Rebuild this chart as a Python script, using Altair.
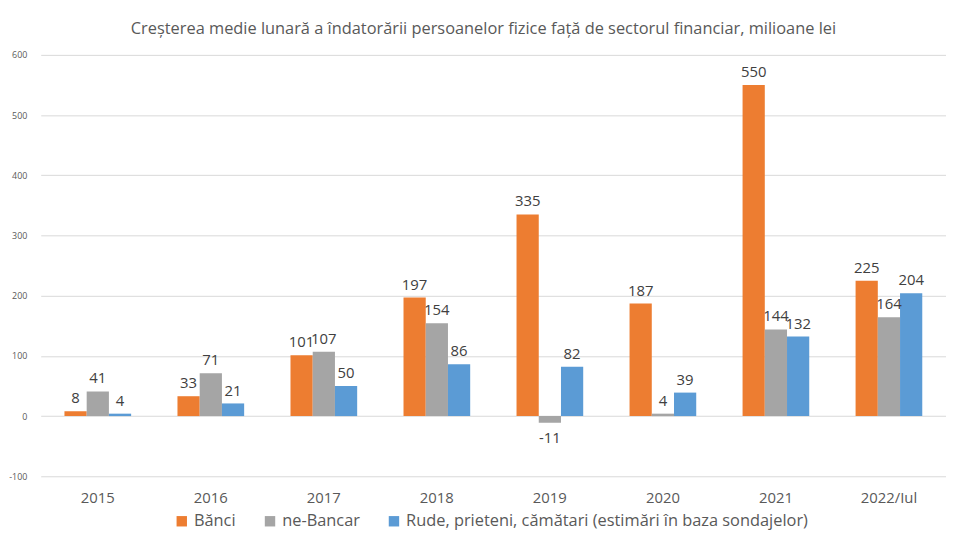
import altair as alt
import pandas as pd

years = ["2015", "2016", "2017", "2018", "2019", "2020", "2021", "2022/Iul"]
series = ["Bănci", "ne-Bancar", "Rude, prieteni, cămătari (estimări în baza sondajelor)"]
banci = [8, 33, 101, 197, 335, 187, 550, 225]
nebancar = [41, 71, 107, 154, -11, 4, 144, 164]
rude = [4, 21, 50, 86, 82, 39, 132, 204]
colors = ["#ED7D31", "#A5A5A5", "#5B9BD5"]

rows = []
for vals, s in zip([banci, nebancar, rude], series):
    for y, v in zip(years, vals):
        rows.append({"year": y, "series": s, "value": v, "label": str(v)})
df = pd.DataFrame(rows)

FONT = "Liberation Sans Narrow, Open Sans, sans-serif"

x = alt.X("year:N", sort=years, title=None,
          scale=alt.Scale(paddingInner=0.41, paddingOuter=0.21),
          axis=alt.Axis(labelAngle=0, labelFontSize=15, labelColor="#595959",
                        labelPadding=14, ticks=False, domain=False, labelFont=FONT))
xo = alt.XOffset("series:N", sort=series, scale=alt.Scale(paddingInner=0))
y = alt.Y("value:Q", title=None,
          scale=alt.Scale(domain=[-100, 600], nice=False),
          axis=alt.Axis(values=[-100, 0, 100, 200, 300, 400, 500, 600],
                        labelExpr="toString(datum.value)",
                        labelFontSize=9, labelColor="#595959", ticks=False,
                        domain=False, gridColor="#D9D9D9", labelPadding=14,
                        labelFont=FONT))

base = alt.Chart(df).encode(x=x, xOffset=xo, y=y)

bars = base.mark_bar().encode(
    color=alt.Color("series:N", sort=series,
                    scale=alt.Scale(domain=series, range=colors),
                    legend=alt.Legend(title=None, orient="none", direction="horizontal",
                                      legendX=134, legendY=462,
                                      symbolType="square", symbolSize=110,
                                      labelFontSize=16.5, labelColor="#595959",
                                      labelFont=FONT, columnPadding=26,
                                      labelLimit=800, symbolStrokeWidth=0))
)

pos = base.transform_filter("datum.value >= 0").mark_text(
    baseline="bottom", dy=-5, fontSize=15, color="#404040", font=FONT
).encode(text="label:N")

neg = base.transform_filter("datum.value < 0").mark_text(
    baseline="top", dy=8, fontSize=15, color="#404040", font=FONT
).encode(text="label:N")

chart = alt.layer(bars, pos, neg).properties(
    width=913, height=425,
    title=alt.TitleParams(
        "Creșterea medie lunară a îndatorării persoanelor fizice față de sectorul financiar, milioane lei",
        fontSize=16.5, fontWeight="normal", color="#595959", font=FONT,
        anchor="middle", offset=14, dx=-10),
    padding={"left": 33, "top": 45, "right": 0, "bottom": 63},
    autosize=alt.AutoSizeParams(type="none"),
).configure_view(stroke=None)

chart.save("out.html", embed_options={"renderer": "svg", "actions": False})
